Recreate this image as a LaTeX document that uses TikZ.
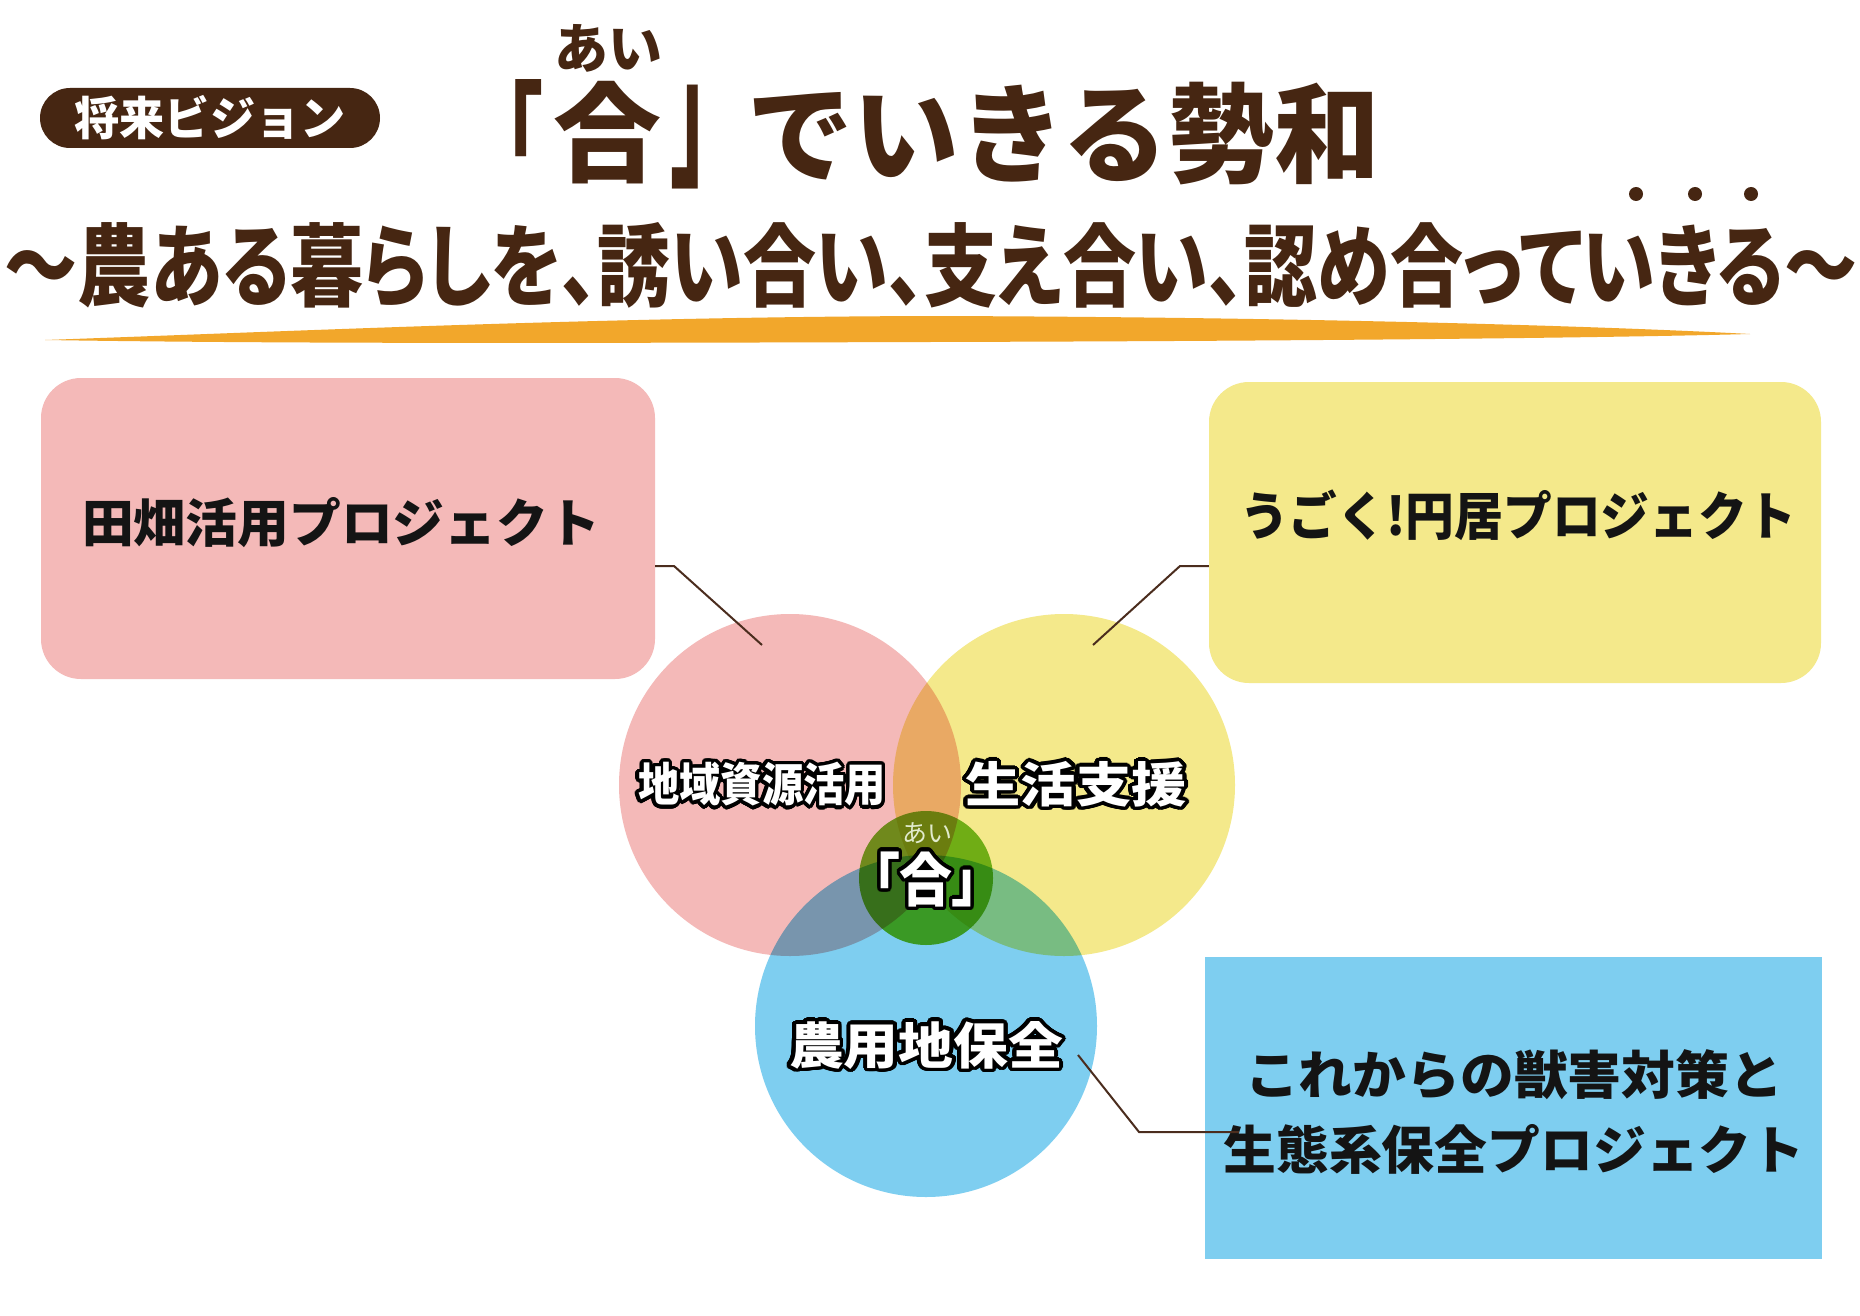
\documentclass[tikz,border=0pt]{standalone}
\usepackage{fontspec}
\usepackage{contour}
\newfontfamily\jp{Noto Sans CJK JP}
\newfontfamily\jpp{Noto Sans CJK JP}[RawFeature=+palt]
\definecolor{brownc}{RGB}{70,38,18}
\definecolor{linec}{RGB}{75,45,30}
\definecolor{pinkc}{RGB}{244,185,184}
\definecolor{yellowc}{RGB}{244,233,139}
\definecolor{bluec}{RGB}{126,206,240}
\definecolor{greenc}{RGB}{118,190,40}
\definecolor{orangec}{RGB}{242,167,43}
\definecolor{rubyc}{RGB}{225,235,205}
\newcommand{\fitto}[2]{\resizebox{#1}{\height}{#2}}
\contourlength{3.5pt}
\contournumber{32}
\tikzset{
  pill/.style={fill=brownc, rounded corners=30pt, minimum width=340pt, minimum height=60pt, inner sep=0pt, text=white},
  titletxt/.style={text=brownc, inner sep=0pt},
  panel/.style={inner sep=0pt},
  paneltxt/.style={text=black!92, inner sep=0pt, align=center, font=\jp\bfseries\fontsize{52}{75}\selectfont},
  venn/.style={circle, minimum size=342pt, inner sep=0pt},
  vlabel/.style={inner sep=0pt, text=white},
  conn/.style={draw=linec, line width=2pt},
}
\begin{document}
\begin{tikzpicture}[x=1pt,y=-1pt]
\useasboundingbox (0,0) rectangle (1860,1316);
\fill[white] (0,0) rectangle (1860,1316);
% header
\node[pill, font=\jp\bfseries\fontsize{46}{50}\selectfont] (vision) at (210,118) {\fitto{271pt}{将来ビジョン}};
\node[titletxt, font=\jp\bfseries\fontsize{54}{60}\selectfont] (rubyT) at (608,48) {あい};
\node[titletxt, font=\jpp\bfseries\fontsize{108}{120}\selectfont] (lbr) at (523,131) {\resizebox*{38pt}{104pt}{「}};
\node[titletxt, font=\jp\bfseries\fontsize{108}{120}\selectfont] (aiT) at (607.5,133) {合};
\node[titletxt, font=\jpp\bfseries\fontsize{108}{120}\selectfont] (rbr) at (691,137) {\resizebox*{38pt}{104pt}{」}};
\node[titletxt, font=\jp\bfseries\fontsize{108}{120}\selectfont] (restT) at (1064,134) {\fitto{632pt}{でいきる勢和}};
\node[titletxt, font=\jpp\bfseries\fontsize{90}{100}\selectfont] (subT) at (931,265) {\fitto{1853pt}{～農ある暮らしを、誘い合い、支え合い、認め合っていきる～}};
\fill[brownc] (1636,194) circle (7) (1695,194) circle (7) (1751,194) circle (7);
\fill[orangec] (45,340) .. controls (300,331) and (600,317) .. (930,316) .. controls (1300,317) and (1600,326) .. (1750,334) .. controls (1600,338) and (1300,341) .. (930,342) .. controls (600,343) and (300,344) .. (45,340) -- cycle;
% panels
\node[panel, fill=pinkc, rounded corners=40pt, minimum width=614pt, minimum height=301pt] (boxA) at (348,528.5) {};
\node[paneltxt] (tA) at (341,523) {\fitto{518pt}{田畑活用プロジェクト}};
\node[panel, fill=yellowc, rounded corners=40pt, minimum width=612pt, minimum height=301pt] (boxB) at (1515,532.5) {};
\node[paneltxt] (tB) at (1518,515) {\fitto{556pt}{うごく!円居プロジェクト}};
\node[panel, fill=bluec, minimum width=617pt, minimum height=302pt] (boxC) at (1513.5,1108) {};
\node[paneltxt] (tC) at (1514,1112) {\fitto{538pt}{これからの獣害対策と}\\\fitto{581pt}{生態系保全プロジェクト}};
% venn
\begin{scope}[blend mode=multiply]
\node[venn, fill=pinkc] (cA) at (790,785) {};
\node[venn, fill=yellowc] (cB) at (1064,785) {};
\node[venn, fill=bluec] (cC) at (926,1026) {};
\node[circle, minimum size=134pt, inner sep=0pt, fill=greenc] (cG) at (926,878) {};
\end{scope}
\node[vlabel, font=\jp\bfseries\fontsize{46}{50}\selectfont] (lA) at (762,786) {\fitto{248pt}{\contour{black}{地域資源活用}}};
\node[vlabel, font=\jp\bfseries\fontsize{48}{50}\selectfont] (lB) at (1076,786) {\fitto{221pt}{\contour{black}{生活支援}}};
\node[vlabel, font=\jp\bfseries\fontsize{50}{54}\selectfont] (lC) at (926,1047) {\fitto{274pt}{\contour{black}{農用地保全}}};
\node[inner sep=0pt, text=rubyc, font=\jp\fontsize{25}{28}\selectfont] (rubyC) at (927.5,833) {あい};
\node[vlabel, font=\jpp\bfseries\fontsize{58}{62}\selectfont] (aiC) at (926,881) {\fitto{106pt}{\contour{black}{「合」}}};
% connectors
\coordinate (bA) at (674,566);
\coordinate (eA) at (762,645);
\coordinate (bB) at (1180,566);
\coordinate (eB) at (1093,645);
\coordinate (sC) at (1078,1055);
\coordinate (bC) at (1139,1132);
\coordinate (eC) at (1239,1132);
\draw[conn] (boxA.east |- bA) -- (bA) -- (eA);
\draw[conn] (boxB.west |- bB) -- (bB) -- (eB);
\draw[conn] (sC) -- (bC) -- (eC);
\end{tikzpicture}
\end{document}
